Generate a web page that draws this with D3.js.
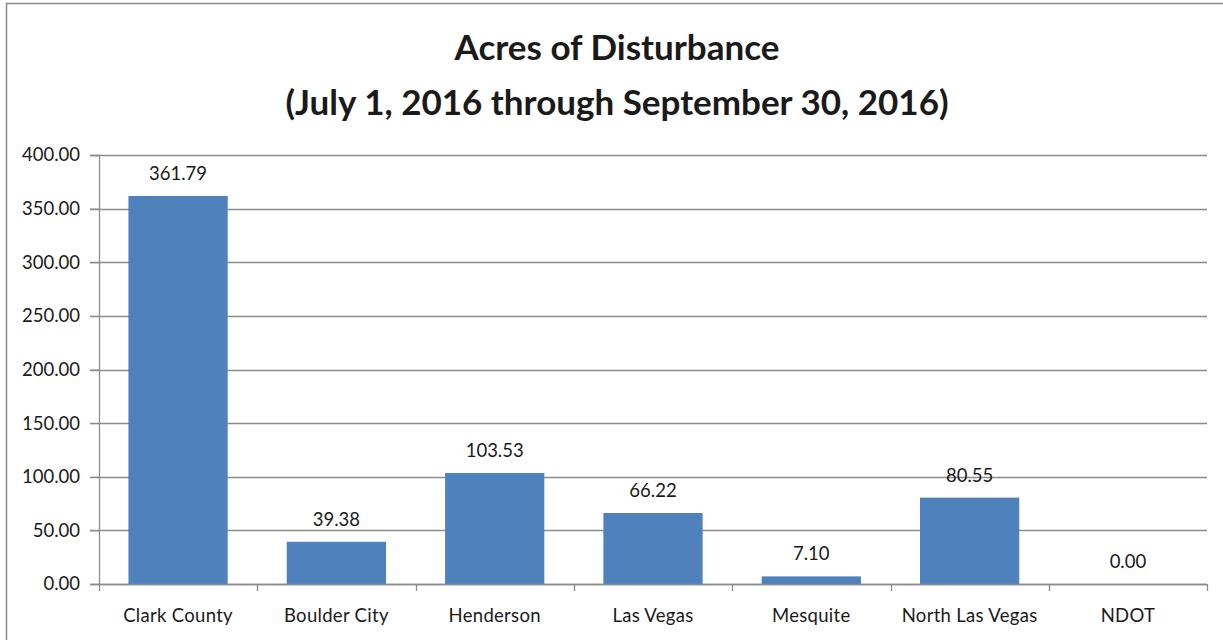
<!DOCTYPE html>
<html>
<head>
<meta charset="utf-8">
<script src="https://cdn.jsdelivr.net/npm/d3@7"></script>
<style>
  body { margin: 0; background: #fff; }
  svg text { font-family: Lato, "Open Sans", sans-serif; fill: #1a1a1a; }
</style>
</head>
<body>
<div class="chart"></div>
<script>
const width = 1223;
const height = 640;

// data
const categories = ["Clark County", "Boulder City", "Henderson", "Las Vegas", "Mesquite", "North Las Vegas", "NDOT"];
const acres = [361.79, 39.38, 103.53, 66.22, 7.10, 80.55, 0.00];
const yTicks = [0, 50, 100, 150, 200, 250, 300, 350, 400];
const titleLines = ["Acres of Disturbance", "(July 1, 2016 through September 30, 2016)"];

const margin = {top: 155, right: 16, bottom: 56, left: 99};
const labelSize = "18.5px";

const svg = d3.select(".chart")
    .append("svg")
    .attr("width", width)
    .attr("height", height);

// outer chart border (right/bottom run off the picture)
svg.append("rect")
    .attr("x", 6.5).attr("y", 3.5)
    .attr("width", width + 20).attr("height", height + 20)
    .attr("fill", "none")
    .attr("stroke", "#888")
    .attr("stroke-width", 1.5);

const x = d3.scaleBand()
    .domain(categories)
    .range([margin.left, width - margin.right])
    .paddingInner(0.373)
    .paddingOuter(0.186);

const y = d3.scaleLinear()
    .domain([0, 400])
    .range([height - margin.bottom, margin.top]);

// gridlines
svg.append("g")
    .selectAll("line")
    .data(yTicks)
    .join("line")
    .attr("x1", margin.left - 9)
    .attr("x2", width - margin.right)
    .attr("y1", d => Math.round(y(d)) + 0.5)
    .attr("y2", d => Math.round(y(d)) + 0.5)
    .attr("stroke", "#8c8c8c")
    .attr("stroke-width", 1.3);

// y axis
const yAxis = svg.append("g")
    .attr("transform", `translate(${margin.left},0)`)
    .call(d3.axisLeft(y).tickValues(yTicks).tickFormat(d3.format(".2f")).tickSize(9).tickPadding(10));
yAxis.select(".domain").attr("stroke", "#8c8c8c").attr("stroke-width", 1.3);
yAxis.selectAll(".tick line").attr("stroke", "#8c8c8c");
yAxis.selectAll("text").style("font-size", labelSize).attr("fill", "#1a1a1a");

// bars
svg.append("g")
    .selectAll("rect")
    .data(acres)
    .join("rect")
    .attr("x", (d, i) => x(categories[i]))
    .attr("y", d => y(d))
    .attr("width", x.bandwidth())
    .attr("height", d => y(0) - y(d))
    .attr("fill", "#4f81bd");

// x axis with ticks between categories
const step = x.step();
const xBounds = d3.range(categories.length + 1).map(i => margin.left + i * step);
svg.append("g")
    .selectAll("line")
    .data(xBounds)
    .join("line")
    .attr("x1", d => Math.round(d) + 0.5)
    .attr("x2", d => Math.round(d) + 0.5)
    .attr("y1", y(0))
    .attr("y2", y(0) + 7)
    .attr("stroke", "#8c8c8c")
    .attr("stroke-width", 1.3);
svg.append("line")
    .attr("x1", margin.left).attr("x2", width - margin.right)
    .attr("y1", Math.round(y(0)) + 0.5).attr("y2", Math.round(y(0)) + 0.5)
    .attr("stroke", "#8c8c8c").attr("stroke-width", 1.3);

svg.append("g")
    .selectAll("text")
    .data(categories)
    .join("text")
    .attr("x", d => x(d) + x.bandwidth() / 2)
    .attr("y", y(0) + 38)
    .attr("text-anchor", "middle")
    .style("font-size", labelSize)
    .style("letter-spacing", "0.3px")
    .text(d => d);

// value labels
svg.append("g")
    .selectAll("text")
    .data(acres)
    .join("text")
    .attr("x", (d, i) => x(categories[i]) + x.bandwidth() / 2)
    .attr("y", d => y(d) - 16)
    .attr("text-anchor", "middle")
    .style("font-size", labelSize)
    .text(d => d3.format(".2f")(d));

// title
svg.append("g")
    .selectAll("text")
    .data(titleLines)
    .join("text")
    .attr("x", 617)
    .attr("y", (d, i) => 60 + i * 55)
    .attr("text-anchor", "middle")
    .style("font-size", "35px")
    .style("font-weight", "bold")
    .attr("fill", "#000")
    .text(d => d);
</script>
</body>
</html>
